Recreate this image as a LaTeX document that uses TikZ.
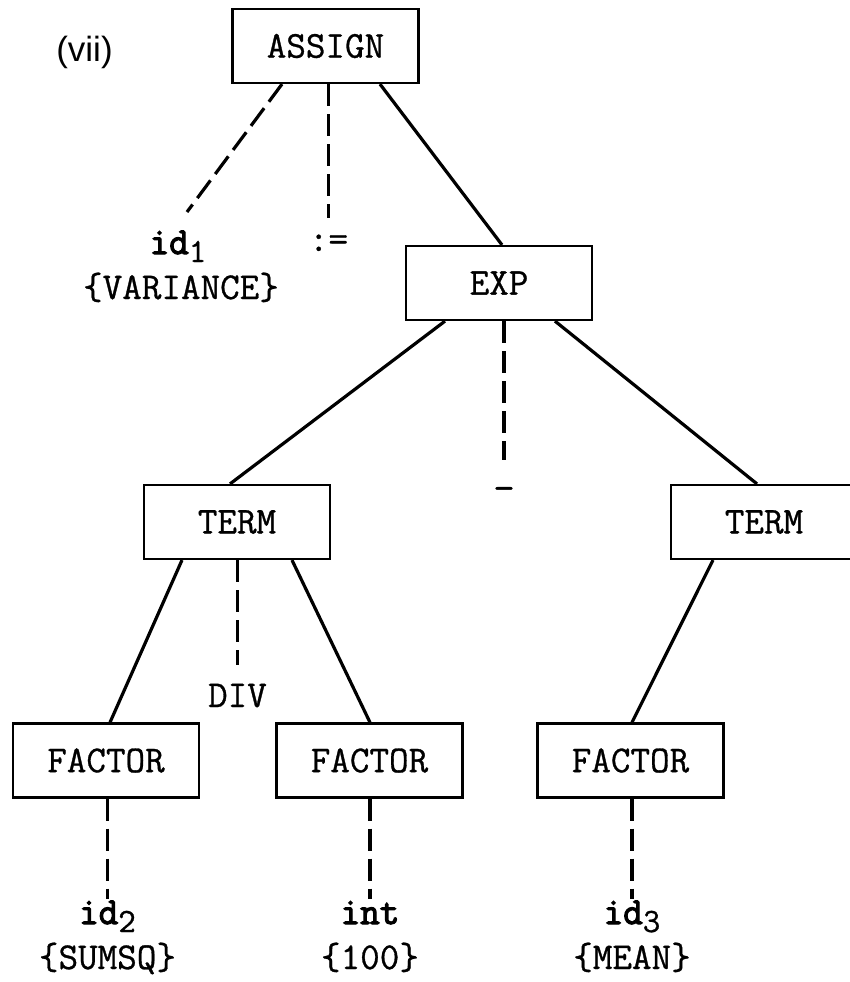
\documentclass[tikz,border=0pt]{standalone}
\usepackage{fontspec}
\setmonofont{Latin Modern Mono}[RawFeature={embolden=0.8}]
\newfontfamily\tokenbold{Latin Modern Mono}[RawFeature={embolden=3}]
\newfontfamily\captionsans{Liberation Sans}
\usetikzlibrary{calc}
\newcommand{\tokname}[1]{{\tokenbold #1}}
\newcommand{\tokidx}[1]{\raisebox{-4pt}{\fontsize{17}{20}\selectfont #1}}
\begin{document}
\begin{tikzpicture}[x=0.5pt,y=-0.5pt,
  every node/.style={font=\fontsize{19}{22}\selectfont\ttfamily},
  cat/.style={draw,line width=1.1pt,rectangle,minimum width=93pt,minimum height=37pt,inner sep=0pt},
  tok/.style={inner sep=0pt,anchor=base},
  tree/.style={line width=1.6pt},
  lex/.style={line width=1.6pt,dash pattern=on 11pt off 4pt}]
\useasboundingbox (0,0) rectangle (850,982);
\clip (0,0) rectangle (850,982);

% nonterminal boxes
\node[cat] (assign) at (325.5,46)  {ASSIGN};
\node[cat] (exp)    at (499,283)   {EXP};
\node[cat] (terml)  at (237,522)   {TERM};
\node[cat] (termr)  at (764,522)   {TERM};
\node[cat] (fac1)   at (106,760.5) {FACTOR};
\node[cat] (fac2)   at (369.5,760.5) {FACTOR};
\node[cat] (fac3)   at (630.5,760.5) {FACTOR};

% tokens and their attribute values
\node[tok] (id1)     at (178,254)   {\tokname{id}\tokidx{1}};
\node[tok] (var)     at (181,299)   {\{VARIANCE\}};
\node[tok] (becomes) at (328.5,251) {:=};
\node[tok] (minus)   at (504,500)   {−};
\node[tok] (div)     at (237.5,707) {DIV};
\node[tok] (id2)     at (107.5,924) {\tokname{id}\tokidx{2}};
\node[tok] (sumsq)   at (107.5,969) {\{SUMSQ\}};
\node[tok] (int)     at (370,924)   {\tokname{int}};
\node[tok] (hundred) at (370,969)   {\{100\}};
\node[tok] (id3)     at (632,924)   {\tokname{id}\tokidx{3}};
\node[tok] (mean)    at (632,969)   {\{MEAN\}};

% part number
\node[tok,font=\fontsize{17.5}{20}\selectfont\captionsans] (part) at (84.5,61) {(vii)};

% tree edges
\draw[tree] ($(assign.south)+(54.5,0)$) -- ($(exp.north)+(3,0)$);
\draw[tree] ($(exp.south)+(-54,0)$)     -- ($(terml.north)+(-7,0)$);
\draw[tree] ($(exp.south)+(56,0)$)      -- ($(termr.north)+(-7,0)$);
\draw[tree] ($(terml.south)+(-55,0)$)   -- ($(fac1.north)+(4,0)$);
\draw[tree] ($(terml.south)+(55,0)$)    -- ($(fac2.north)+(0.5,0)$);
\draw[tree] ($(termr.south)+(-51,0)$)   -- ($(fac3.north)+(1.5,0)$);

% links to tokens
\draw[lex] ($(assign.south)+(-43.5,0)$) -- ($(id1.base)+(9,-42)$);
\draw[lex] (assign.south -| becomes.base) -- ($(becomes.base)+(0,-33)$);
\draw[lex] (exp.south -| minus.base)    -- ($(minus.base)+(0,-40)$);
\draw[lex] (terml.south -| div.base)    -- ($(div.base)+(0,-42)$);
\draw[lex] (fac1.south -| id2.base)     -- ($(id2.base)+(0,-25)$);
\draw[lex] (fac2.south -| int.base)     -- ($(int.base)+(0,-25)$);
\draw[lex] (fac3.south -| id3.base)     -- ($(id3.base)+(0,-25)$);
\end{tikzpicture}
\end{document}
